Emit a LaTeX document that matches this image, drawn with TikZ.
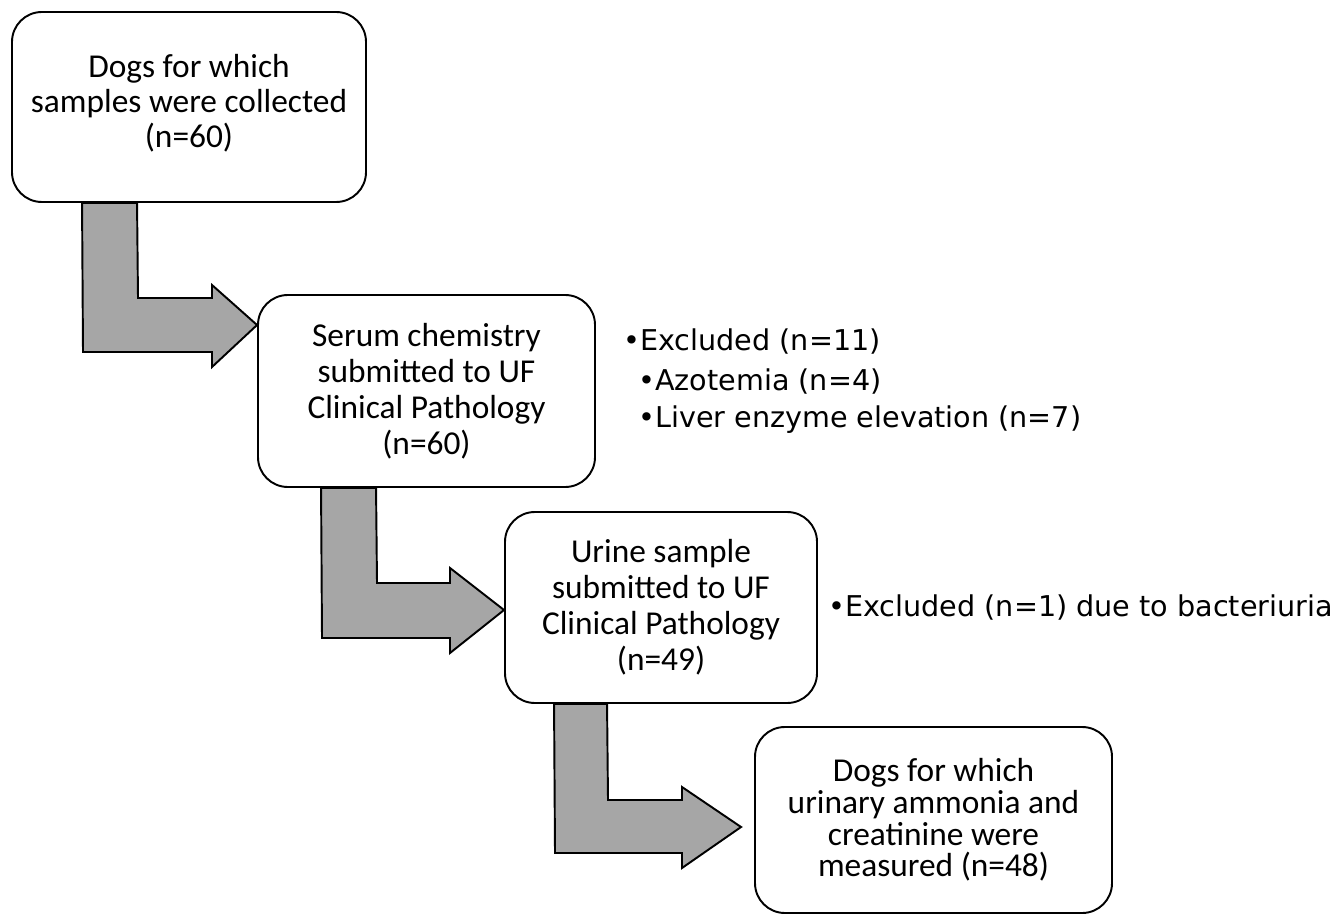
\documentclass[tikz,border=0pt]{standalone}
\usepackage{fontspec}
\setmainfont{Carlito}
\newfontfamily\sidefont{DejaVu Sans}
\usetikzlibrary{calc}
\tikzset{
  stagebox/.style={draw=black, line width=1.1pt, rounded corners=17pt, fill=white,
    align=center, inner sep=2pt, font=\fontsize{19}{20.5}\selectfont},
  bigarrow/.style={draw=black, line width=1.1pt, fill=black!35, line join=miter},
  sidenote/.style={anchor=west, inner sep=0pt, align=left, font=\sidefont\fontsize{16.3}{22}\selectfont}
}
\begin{document}
\begin{tikzpicture}[x=0.02cm, y=-0.02cm]
\useasboundingbox (0,0) rectangle (1344,915);
% boxes
\node[stagebox, minimum width=354*0.02cm, minimum height=190*0.02cm, font=\fontsize{19}{19.8}\selectfont] (b1) at (189,107) {};
\node[align=center, inner sep=0pt, font=\fontsize{19}{19.8}\selectfont] (b1t) at (189,103)
  {Dogs for which\\samples were collected\\(n=60)};
\node[stagebox, minimum width=337*0.02cm, minimum height=192*0.02cm] (b2) at (426.5,391)
  {Serum chemistry\\submitted to UF\\Clinical Pathology\\(n=60)};
\node[stagebox, minimum width=312*0.02cm, minimum height=191*0.02cm] (b3) at (661,607.5)
  {Urine sample\\submitted to UF\\Clinical Pathology\\(n=49)};
\node[stagebox, minimum width=357*0.02cm, minimum height=186*0.02cm, font=\fontsize{19}{18}\selectfont] (b4) at (933.5,820)
  {Dogs for which\\urinary ammonia and\\creatinine were\\measured (n=48)};
% tips
\coordinate (t1) at (b2.west |- 0,325);
\coordinate (t2) at (b3.west |- 0,610);
\coordinate (t3) at ($(b4.west |- 0,827)+(-13,0)$);
% arrows
\draw[bigarrow] ($(b1.south west)+(71,0)$) -- ($(b1.south west)+(126,0)$) -- (138,298) -- (212,298) -- (212,285)
  -- (t1) -- (212,367) -- (212,352) -- (83,352) -- cycle;
\draw[bigarrow] ($(b2.south west)+(64,0)$) -- ($(b2.south west)+(119,0)$) -- (377,583) -- (450,583) -- (450,568)
  -- (t2) -- (450,653) -- (450,638) -- (322,638) -- cycle;
\draw[bigarrow] ($(b3.south west)+(50,0)$) -- ($(b3.south west)+(103,0)$) -- (608,800) -- (682,800) -- (682,787)
  -- (t3) -- (682,868) -- (682,853) -- (555,853) -- cycle;
% side notes
\node[sidenote] (n1) at (623,342) {•Excluded (n=11)};
\node[sidenote] (n2) at (638,382) {•Azotemia (n=4)};
\node[sidenote] (n3) at (638,420) {•Liver enzyme elevation (n=7)};
\node[sidenote] (n4) at (828,608) {•Excluded (n=1) due to bacteriuria};
\end{tikzpicture}
\end{document}
